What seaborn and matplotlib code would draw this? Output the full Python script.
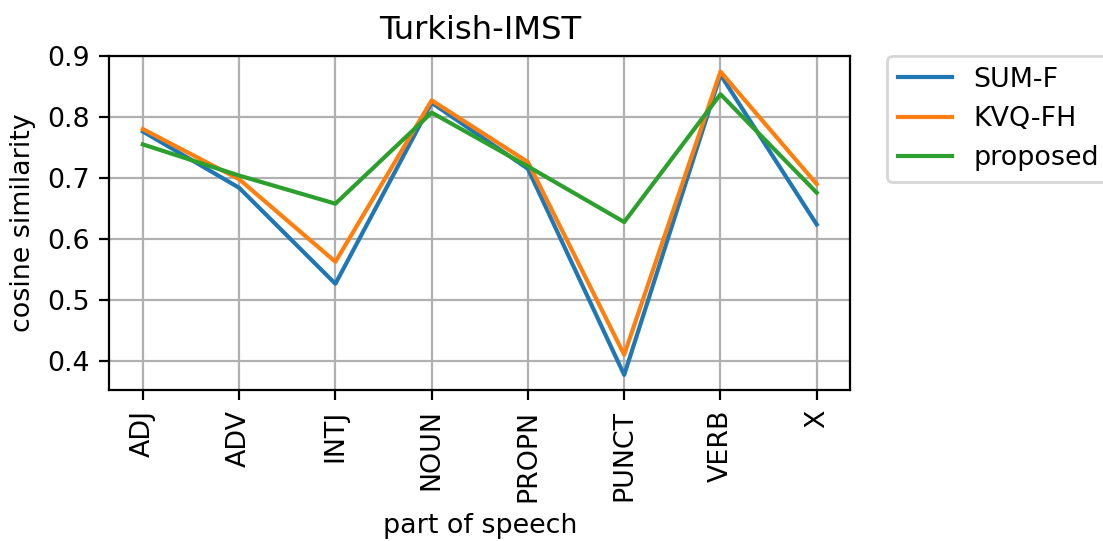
import pandas as pd
import matplotlib
matplotlib.use('Agg')
import matplotlib.pyplot as plt
import seaborn as sns

# categorias y valores
pos = ['ADJ', 'ADV', 'INTJ', 'NOUN', 'PROPN', 'PUNCT', 'VERB', 'X']
sum_f = [0.776, 0.684, 0.527, 0.823, 0.715, 0.378, 0.869, 0.624]
kvq_fh = [0.780, 0.698, 0.563, 0.827, 0.726, 0.411, 0.874, 0.690]
proposed = [0.755, 0.704, 0.658, 0.807, 0.719, 0.628, 0.837, 0.676]

datos = pd.DataFrame({
    'pos': pos * 3,
    'sim': sum_f + kvq_fh + proposed,
    'metodo': ['SUM-F'] * 8 + ['KVQ-FH'] * 8 + ['proposed'] * 8,
})

plt.rcParams['font.size'] = 9.7

fig = plt.figure(figsize=(5.515, 2.705), dpi=200)
ax = fig.add_axes([0.099, 0.279, 0.672, 0.618])
sns.lineplot(data=datos, x='pos', y='sim', hue='metodo', sort=False,
             palette=['#1f77b4', '#ff7f0e', '#2ca02c'], linewidth=1.5, ax=ax)

ax.set_title('Turkish-IMST')
ax.set_xlabel('part of speech', labelpad=4)
ax.set_ylabel('cosine similarity', labelpad=4)
ax.set_yticks([0.4, 0.5, 0.6, 0.7, 0.8, 0.9])
plt.setp(ax.get_xticklabels(), rotation=90)
ax.grid(True)
ax.legend(bbox_to_anchor=(1.05, 1), loc='upper left', borderaxespad=0.)

fig.savefig('out.png', dpi=200)
